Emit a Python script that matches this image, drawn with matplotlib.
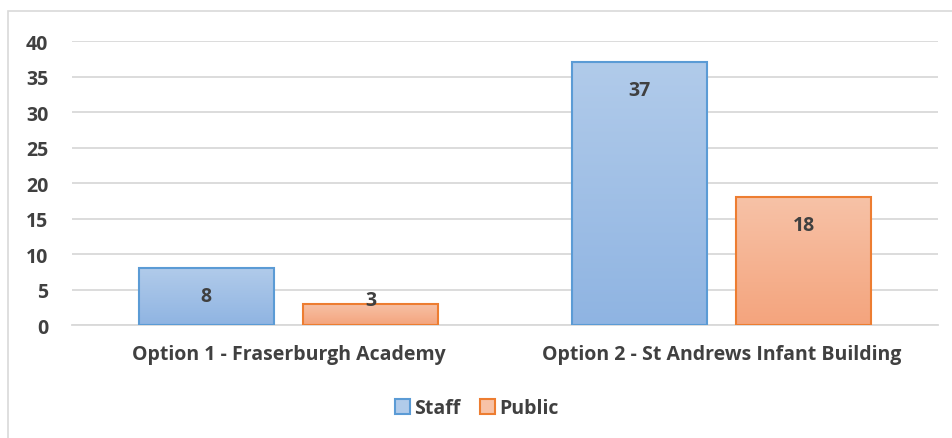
import numpy as np
import matplotlib.pyplot as plt
from matplotlib.patches import Rectangle, Patch
from matplotlib.colors import LinearSegmentedColormap

categories = ['Option 1 - Fraserburgh Academy', 'Option 2 - St Andrews Infant Building']
staff = [8, 37]
public = [3, 18]
series_names = ['Staff', 'Public']

plt.rcParams['font.family'] = ['Open Sans', 'DejaVu Sans']
plt.rcParams['font.weight'] = 'bold'
text_color = '#404040'
fs = 14

fig = plt.figure(figsize=(9.53, 4.39), dpi=100)
ax = fig.add_axes([0.0756, 0.2574, 0.9088, 0.6469])

# chart border like Excel
fig.patches.append(Rectangle((8 / 953, -0.05), 1.2, (439 - 12) / 439 + 0.05,
                             transform=fig.transFigure, fill=False,
                             edgecolor='#d9d9d9', linewidth=1.2))

x = np.arange(len(categories))
width = 0.312
offset = 0.19

styles = [
    dict(edge='#5b9bd5', top='#b1cbea', bottom='#8fb4e2'),
    dict(edge='#ed7d31', top='#f7c2a7', bottom='#f4a47d'),
]


def gradient_bars(xs, vals, st):
    bars = ax.bar(xs, vals, width, color='none', edgecolor=st['edge'], linewidth=1.5, zorder=3)
    cmap = LinearSegmentedColormap.from_list('g', [st['bottom'], st['top']])
    grad = np.linspace(0, 1, 256).reshape(-1, 1)
    for b in bars:
        x0, y0 = b.get_x(), b.get_y()
        im = ax.imshow(grad, cmap=cmap, aspect='auto', origin='lower',
                       extent=[x0, x0 + b.get_width(), y0, y0 + b.get_height()], zorder=2)
        im.set_clip_path(b)
    return bars


gradient_bars(x - offset, staff, styles[0])
gradient_bars(x + offset, public, styles[1])

for xs, vals in [(x - offset, staff), (x + offset, public)]:
    for xi, v in zip(xs, vals):
        ax.text(xi, max(v - 3.9, 3.5), str(v), ha='center', va='center',
                fontsize=fs, fontweight='bold', color=text_color, zorder=4)

ax.set_xlim(-0.5, 1.5)
ax.set_ylim(0, 40)
ax.set_yticks(range(0, 41, 5))
ax.set_xticks(x)
ax.set_xticklabels(categories, fontweight='bold')
for lab in ax.get_yticklabels():
    lab.set_fontweight('bold')
ax.yaxis.grid(True, color='#d9d9d9', linewidth=1.3, zorder=0)
ax.set_axisbelow(True)
for s in ['top', 'right', 'left']:
    ax.spines[s].set_visible(False)
ax.spines['bottom'].set_color('#d9d9d9')
ax.spines['bottom'].set_linewidth(1.3)
ax.tick_params(axis='both', length=0, labelsize=fs, colors=text_color)
ax.tick_params(axis='y', pad=17)
ax.tick_params(axis='x', pad=14)

handles = [Patch(facecolor=styles[i]['top'], edgecolor=styles[i]['edge'], linewidth=1.5)
           for i in range(2)]
leg = fig.legend(handles, series_names, loc='center', bbox_to_anchor=(0.5, (439 - 409) / 439),
                 ncol=2, frameon=False, handlelength=0.8, handleheight=0.8,
                 handletextpad=0.2, columnspacing=1.0,
                 prop={'size': fs, 'weight': 'bold'})
for t in leg.get_texts():
    t.set_color(text_color)

fig.savefig('out.png', dpi=100)
